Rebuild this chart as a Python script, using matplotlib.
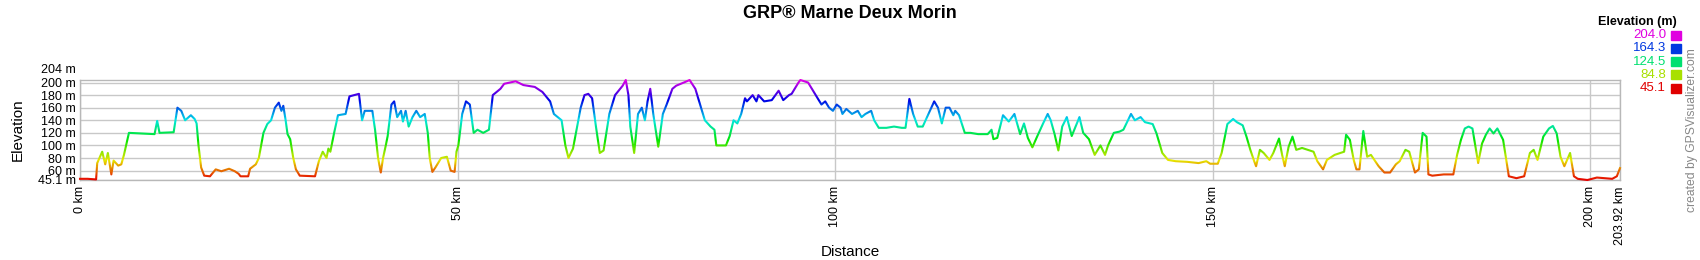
import numpy as np
import matplotlib.pyplot as plt
from matplotlib.patches import Rectangle
from matplotlib.colors import hsv_to_rgb

plt.rcParams['font.family'] = ['Liberation Sans', 'DejaVu Sans']

############################################################################
## data
############################################################################
title = 'GRP\u00ae Marne Deux Morin'

dist_km = [0.00, 1.01, 2.13, 2.28, 2.94, 3.34, 3.69, 4.15, 4.45, 5.06, 5.47, 5.82, 6.48,
           8.10, 9.87, 10.22, 10.53, 12.40, 12.90, 13.41, 13.92, 14.68, 15.18, 15.44,
           15.69, 16.04, 16.45, 17.21, 17.97, 18.72, 19.74, 20.50, 21.00, 21.26, 22.27,
           22.52, 23.28, 23.68, 24.29, 24.80, 25.30, 25.81, 26.32, 26.67, 26.92, 27.23,
           27.48, 27.83, 28.24, 28.59, 29.10, 31.12, 31.63, 32.14, 32.64, 32.89, 33.15,
           33.65, 34.16, 35.17, 35.68, 36.94, 37.35, 37.70, 38.71, 39.07, 39.47, 39.83,
           40.13, 40.49, 40.74, 41.24, 41.60, 42.00, 42.51, 42.76, 43.12, 43.52, 44.03,
           44.53, 45.04, 45.65, 46.05, 46.31, 46.66, 47.06, 47.82, 48.58, 49.09, 49.60,
           49.85, 50.10, 50.61, 51.11, 51.62, 52.13, 52.63, 53.39, 54.15, 54.66, 55.67,
           56.17, 57.69, 58.70, 60.22, 61.23, 62.25,
           62.75, 63.77, 64.27, 64.68, 65.28, 66.30, 66.80, 67.31, 67.81, 68.32, 68.83,
           69.33, 70.09, 70.85, 71.86, 72.27, 72.62, 72.87, 73.38, 73.89, 74.39, 74.80,
           75.15, 75.51, 75.91, 76.57, 77.18, 77.68, 78.44, 78.95, 79.96, 80.72, 81.48,
           82.24, 82.74, 83.50, 84.01, 84.26, 84.77, 85.53, 86.03, 86.54, 87.04, 87.55,
           88.06, 88.31, 89.07, 89.57, 89.83, 90.59, 91.60, 92.51, 93.12, 93.88, 94.23,
           95.14, 95.39, 96.41, 97.17, 97.67, 98.18, 98.68, 99.19, 99.70, 100.20, 100.71,
           100.96, 101.47, 102.23, 102.99, 103.49, 104.00, 104.76, 105.16, 105.77, 106.78,
           107.79, 108.81, 109.31, 109.56, 109.82, 110.32, 110.93, 111.59, 112.35, 113.11,
           113.61, 114.12, 114.63, 115.13, 115.64, 115.89, 116.40, 117.16, 117.91, 118.93,
           120.19, 120.70, 120.95, 121.46, 122.22, 122.98, 123.73, 124.49, 125.00, 125.51,
           126.11, 126.77, 127.53, 128.14, 128.54, 129.05, 129.55, 130.06, 130.67, 131.32,
           132.34, 132.84, 133.60, 134.36, 135.12, 135.73, 136.13, 136.89, 137.65, 138.16,
           139.17, 139.68, 140.44,
           141.02, 142.04, 142.55, 143.31, 144.07, 145.08, 146.60, 148.12, 149.14, 149.65,
           150.66, 151.17, 151.93, 152.69, 153.19, 153.96, 154.46, 154.97, 155.48, 155.73,
           156.24, 156.74, 157.51, 158.01, 158.77, 159.18, 159.53, 160.04, 160.55, 161.05,
           161.82, 162.58, 163.34, 163.84, 164.60, 165.11, 166.13, 166.89, 167.39, 167.65,
           168.15, 168.66, 169.02, 169.42, 169.93, 170.44, 170.94, 171.96, 172.72, 173.48,
           174.24, 174.75, 175.51, 176.01, 176.77, 177.28, 177.79, 178.30, 178.55, 179.06,
           180.58, 181.85, 182.35, 182.86, 183.37, 183.87, 184.38, 185.14, 185.65, 186.16,
           186.66, 187.17, 187.68, 188.44, 189.20, 190.21, 191.23, 191.99, 192.49, 193.00,
           193.76, 194.52, 195.03, 195.54, 196.04, 196.55, 197.31, 197.82, 198.33, 199.60,
           200.86, 202.89, 203.50, 203.92]

elev_m = [47, 47, 46, 72, 90, 70, 88, 54, 76, 68, 70, 85, 120,
          119, 118, 139, 120, 121, 160, 155, 140, 148, 142, 135,
          100, 65, 52, 51, 62, 59, 63, 59, 55, 51, 51,
          63, 70, 80, 120, 134, 140, 160, 168, 155, 163, 140,
          118, 110, 80, 62, 52, 51, 75, 90, 80, 95, 90,
          120, 148, 150, 178, 182, 140, 155, 155, 125, 80, 57,
          80, 100, 115, 165, 170, 145, 155, 138, 155, 130, 145,
          155, 145, 150, 120, 80, 58, 65, 80, 82, 60, 58,
          90, 100, 150, 170, 165, 120, 125, 120, 125, 180, 190,
          198, 202, 196, 193, 185, 170,
          150, 140, 100, 80, 95, 160, 180, 182, 175, 130, 88,
          92, 150, 180, 195, 204, 180, 130, 88, 150, 160, 140,
          170, 190, 150, 98, 150, 165, 190, 195, 200, 204, 190,
          160, 140, 130, 125, 100, 100, 100, 115, 140, 135, 150,
          175, 170, 180, 170, 180, 170, 172, 187, 172, 180, 182,
          200, 204, 200, 185, 175, 165, 170, 160, 155, 165, 160,
          150, 158, 150, 155, 145, 150, 155, 140, 128, 128,
          130, 128, 128, 150, 174, 150, 130, 130, 150, 170,
          160, 135, 160, 160, 148, 155, 148, 120, 120, 118,
          118, 125, 110, 112, 148, 138, 150, 118, 135, 112,
          97, 115, 135, 150, 140, 118, 92, 130, 145, 115,
          145, 120, 110, 85, 100, 85, 100, 120, 122, 125,
          150, 140, 145,
          137, 134, 119, 88, 77, 75, 74, 72, 75, 71,
          71, 88, 134, 142, 137, 132, 114, 93, 75, 67,
          93, 88, 77, 88, 111, 85, 67, 98, 114, 93,
          96, 93, 90, 75, 62, 77, 85, 88, 90, 117,
          109, 77, 62, 62, 123, 82, 85, 67, 57, 57,
          70, 75, 93, 90, 57, 62, 120, 114, 54, 52,
          54, 54, 85, 109, 127, 130, 127, 72, 103, 117,
          127, 119, 127, 109, 51, 48, 51, 88, 93, 77,
          114, 127, 131, 119, 82, 67, 88, 51, 47, 45.1,
          49, 47, 51, 64]

y_ticks = [45.1, 60, 80, 100, 120, 140, 160, 180, 200]
y_labels = ['45.1 m', '60 m', '80 m', '100 m', '120 m', '140 m', '160 m', '180 m', '200 m']
x_ticks = [0, 50, 100, 150, 200, 203.92]
x_labels = ['0 km', '50 km', '100 km', '150 km', '200 km', '203.92 km']
legend_vals = [204.0, 164.3, 124.5, 84.8, 45.1]

ymin, ymax = 45.1, 204.0
xmax = 203.92


## hue goes red -> yellow -> green -> cyan -> blue -> magenta with elevation
def elev_color(e, v=0.9):
    t = (e - ymin) / (ymax - ymin)
    t = min(max(t, 0.0), 1.0)
    return hsv_to_rgb((t * 300.0 / 360.0, 1.0, v))


############################################################################
## figure
############################################################################
W, H = 1700, 260
fig = plt.figure(figsize=(W / 100, H / 100), dpi=100)
ax = fig.add_axes([80 / W, 80 / H, 1540 / W, 100 / H])

## line coloured by elevation: draw it once per elevation band, clipped to the band
edges = np.linspace(ymin - 8, ymax + 8, 91)
for lo, hi in zip(edges[:-1], edges[1:]):
    ln, = ax.plot(dist_km, elev_m, color=elev_color((lo + hi) / 2), lw=1.5,
                  solid_joinstyle='round', zorder=3)
    ln.set_clip_path(Rectangle((-10, lo), xmax + 20, hi - lo, transform=ax.transData))

ax.set_xlim(0, xmax)
ax.set_ylim(ymin, ymax)
ax.set_xticks(x_ticks)
ax.set_xticklabels(x_labels, rotation=90, fontsize=9)
ax.set_yticks(y_ticks)
ax.set_yticklabels(y_labels, fontsize=9)
ax.tick_params(axis='x', length=0, pad=4.5)
ax.tick_params(axis='y', length=0, pad=3)
ax.grid(True, color='#c8c8c8', lw=1, zorder=0)
for s in ax.spines.values():
    s.set_color('#b8b8b8')
    s.set_linewidth(1)

## top label sits above the 200 m one
ax.annotate('204 m', xy=(0, ymax), xycoords=('axes fraction', 'data'),
            xytext=(-3, 7), textcoords='offset points', ha='right', va='center', fontsize=9)

fig.text(850 / W, 1 - 13 / H, title, ha='center', va='center', fontsize=13, fontweight='bold')
fig.text(850 / W, 1 - 252 / H, 'Distance', ha='center', va='center', fontsize=11)
fig.text(17.5 / W, 1 - 130 / H, 'Elevation', rotation=90, ha='center', va='center', fontsize=11)

## colour legend
fig.text(1677 / W, 1 - 22 / H, 'Elevation (m)', ha='right', va='center', fontsize=9, fontweight='bold')
for i, v in enumerate(legend_vals):
    y = 35 + 13.3 * i
    c = elev_color(v, 0.88)
    fig.text(1666 / W, 1 - y / H, f'{v:.1f}', color=c, ha='right', va='center', fontsize=9.5)
    fig.add_artist(Rectangle((1671 / W, 1 - (y + 4.5) / H), 10 / W, 9 / H,
                             transform=fig.transFigure, color=c))

fig.text(1692 / W, 1 - 130 / H, 'created by GPSVisualizer.com', rotation=90,
         ha='center', va='center', fontsize=8.7, color='#888888')

fig.savefig('out.png', dpi=100, facecolor='white')
